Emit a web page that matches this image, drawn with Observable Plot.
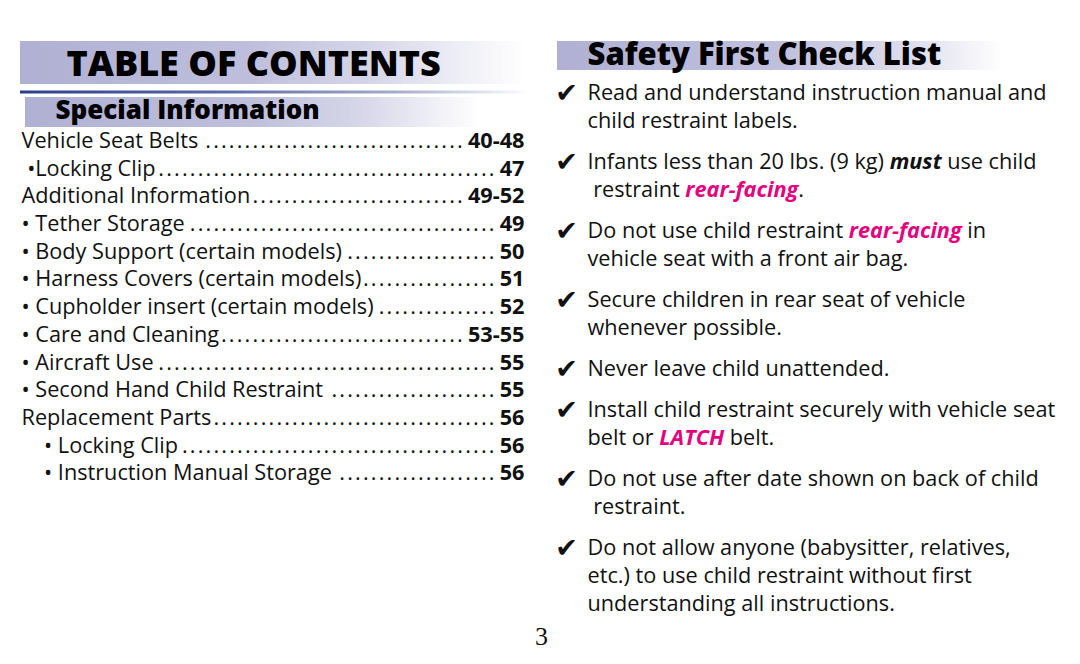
<!DOCTYPE html>
<html><head><meta charset="utf-8">
<script src="https://cdn.jsdelivr.net/npm/d3@7"></script>
<script src="https://cdn.jsdelivr.net/npm/@observablehq/plot@0.6"></script>
<style>body{margin:0;background:#fff;overflow:hidden}</style>
</head><body><div id="chart"></div>
<script>
// ---------- content ----------
const tocTitle = "TABLE OF CONTENTS";
const sectionTitle = "Special Information";
const checkTitle = "Safety First Check List";
const pageNumber = "3";
const tocLabels = ["Vehicle Seat Belts", " \u2022Locking Clip", "Additional Information", "\u2022 Tether Storage",
  "\u2022 Body Support (certain models)", "\u2022 Harness Covers (certain models)", "\u2022 Cupholder insert (certain models)",
  "\u2022 Care and Cleaning", "\u2022 Aircraft Use", "\u2022 Second Hand Child Restraint", "Replacement Parts",
  "    \u2022 Locking Clip", "    \u2022 Instruction Manual Storage"];
const tocPages = ["40-48", "47", "49-52", "49", "50", "51", "52", "53-55", "55", "55", "56", "56", "56"];
const checkItems = [
  ["Read and understand instruction manual and", "child restraint labels."],
  ["Infants less than 20 lbs. (9 kg) *must* use child", " restraint {rear-facing}."],
  ["Do not use child restraint {rear-facing} in", "vehicle seat with a front air bag."],
  ["Secure children in rear seat of vehicle", "whenever possible."],
  ["Never leave child unattended."],
  ["Install child restraint securely with vehicle seat", "belt or {LATCH} belt."],
  ["Do not use after date shown on back of child", " restraint."],
  ["Do not allow anyone (babysitter, relatives,", "etc.) to use child restraint without first", "understanding all instructions."]
];

// ---------- styles ----------
const bodyFont = "'Open Sans', sans-serif";
const headFont = "'Open Sans', sans-serif";
const bodySize = 21.7;
const pink = "#e5007e";
const leader = ".\u200A";
const ctx = document.createElement("canvas").getContext("2d");
function measure(str, weight = "normal", style = "normal", size = bodySize, fam = bodyFont) {
  ctx.font = `${style} ${weight} ${size}px ${fam}`;
  return ctx.measureText(str).width;
}

// ---------- layout (derived) ----------
const tocX = 21, tocRight = 524, tocY0 = 140.5, tocStep = 27.7;
const tocRows = tocLabels.map((label, i) => {
  const lead = label.match(/^\s*/)[0];
  const text = label.trim();
  const x = tocX + measure(lead);
  const endX = x + measure(text);
  const pageW = measure(tocPages[i], "bold");
  const dotW = measure(leader);
  const n = Math.max(0, Math.floor((tocRight - pageW - endX - 4) / dotW));
  return {x, y: tocY0 + i * tocStep, text, dots: leader.repeat(n), dotX: tocRight - pageW - 3, page: tocPages[i]};
});

const checkX = 587, checkY0 = 93, lineStep = 28, itemGap = 13;
const segments = [], checks = [];
let lineIdx = 0;
checkItems.forEach((lines, k) => {
  lines.forEach((line, j) => {
    const y = checkY0 + lineIdx * lineStep + k * itemGap;
    if (j === 0) checks.push({x: checkX - 21, y});
    let off = checkX;
    line.split(/(\*[^*]+\*|\{[^}]+\})/).filter(s => s.length).forEach(seg => {
      let kind = "normal", s = seg;
      if (seg.startsWith("*")) { kind = "em"; s = seg.slice(1, -1); }
      else if (seg.startsWith("{")) { kind = "pink"; s = seg.slice(1, -1); }
      const w = kind === "normal" ? "normal" : "bold", st = kind === "normal" ? "normal" : "italic";
      const lead = s.match(/^\s*/)[0];
      segments.push({x: off + measure(lead, w, st), y, text: s.trim(), kind});
      off += measure(s, w, st);
    });
    lineIdx++;
  });
});

const bars = [
  {x1: 20, x2: 525, y1: 41, y2: 84, grad: "url(#gTitle)"},
  {x1: 25, x2: 480, y1: 97, y2: 127, grad: "url(#gSection)"},
  {x1: 557, x2: 1003, y1: 41, y2: 70, grad: "url(#gCheck)"}
];
const rules = [{x1: 20, x2: 530, y1: 90.5, y2: 93.5}];
const headings = [
  {x: 66, y: 64, text: tocTitle, size: 36},
  {x: 55, y: 110, text: sectionTitle, size: 26},
  {x: 587, y: 55, text: checkTitle, size: 31}
];

const chart = Plot.plot({
  width: 1080, height: 664, margin: 0,
  x: {domain: [0, 1080], range: [0, 1080], axis: null},
  y: {domain: [0, 664], range: [0, 664], axis: null},
  marks: [
    Plot.rect(bars, {x1: "x1", x2: "x2", y1: "y1", y2: "y2", fill: d => d.grad}),
    Plot.rect(rules, {x1: "x1", x2: "x2", y1: "y1", y2: "y2", fill: "url(#gRule)"}),
    ...headings.map(h => Plot.text([h], {x: "x", y: "y", text: "text", textAnchor: "start", lineAnchor: "middle",
      fontSize: h.size, fontWeight: 800, fontFamily: headFont, fill: "#000"})),
    Plot.text(tocRows, {x: "x", y: "y", text: "text", textAnchor: "start", lineAnchor: "middle", fontSize: bodySize, fontFamily: bodyFont, fill: "#111"}),
    Plot.text(tocRows, {x: "dotX", y: "y", text: "dots", textAnchor: "end", lineAnchor: "middle", fontSize: bodySize, fontFamily: bodyFont, fill: "#111"}),
    Plot.text(tocRows, {x: tocRight, y: "y", text: "page", textAnchor: "end", lineAnchor: "middle", fontSize: bodySize, fontWeight: "bold", fontFamily: bodyFont, fill: "#111"}),
    Plot.text(checks, {x: "x", y: "y", text: () => "\u2714", textAnchor: "middle", lineAnchor: "middle", fontSize: 27, fontFamily: "'DejaVu Sans'", fill: "#111"}),
    Plot.text(segments.filter(d => d.kind === "normal"), {x: "x", y: "y", text: "text", textAnchor: "start", lineAnchor: "middle", fontSize: bodySize, fontFamily: bodyFont, fill: "#111"}),
    Plot.text(segments.filter(d => d.kind !== "normal"), {x: "x", y: "y", text: "text", textAnchor: "start", lineAnchor: "middle", fontSize: bodySize, fontFamily: bodyFont, fontWeight: "bold", fontStyle: "italic", fill: d => d.kind === "pink" ? pink : "#111"}),
    Plot.text([{x: 541, y: 636, t: pageNumber}], {x: "x", y: "y", text: "t", textAnchor: "middle", lineAnchor: "middle", fontSize: 26, fontFamily: "'Liberation Serif', serif", fill: "#111"})
  ]
});

// gradients
const defs = d3.select(chart).insert("defs", ":first-child");
function grad(id, stops) {
  const g = defs.append("linearGradient").attr("id", id).attr("x1", 0).attr("x2", 1).attr("y1", 0).attr("y2", 0);
  stops.forEach(([o, c]) => g.append("stop").attr("offset", o).attr("stop-color", c));
}
grad("gTitle", [[0, "#b0b0d4"], [0.45, "#bebedc"], [0.7, "#d6d6e9"], [0.88, "#efeff7"], [1, "#ffffff"]]);
grad("gSection", [[0, "#b0b0d4"], [0.5, "#bfbfdc"], [0.75, "#d8d8ea"], [1, "#ffffff"]]);
grad("gCheck", [[0, "#b0b0d4"], [0.5, "#c0c0dd"], [0.8, "#dedeed"], [1, "#ffffff"]]);
grad("gRule", [[0, "#2b3d8f"], [0.4, "#5a6aa8"], [0.75, "#a8b0d0"], [1, "#ffffff"]]);

document.getElementById("chart").appendChild(chart);
</script>
</body></html>
